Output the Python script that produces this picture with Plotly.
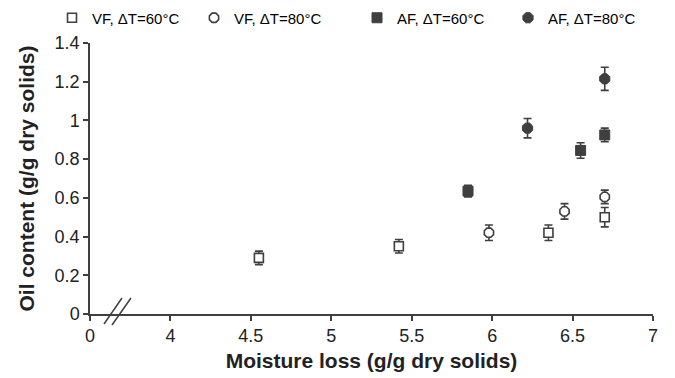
import plotly.graph_objects as go

# Data (moisture loss, oil content, error)
vf60_x = [4.55, 5.42, 6.35, 6.70]
vf60_y = [0.29, 0.35, 0.42, 0.50]
vf60_e = [0.035, 0.035, 0.04, 0.05]

vf80_x = [5.98, 6.45, 6.70]
vf80_y = [0.42, 0.53, 0.605]
vf80_e = [0.04, 0.04, 0.035]

af60_x = [5.85, 6.55, 6.70]
af60_y = [0.635, 0.845, 0.925]
af60_e = [0.03, 0.04, 0.035]

af80_x = [6.22, 6.70]
af80_y = [0.96, 1.215]
af80_e = [0.05, 0.06]

x_tickvals = [3.5, 4, 4.5, 5, 5.5, 6, 6.5, 7]
x_ticktext = ["0", "4", "4.5", "5", "5.5", "6", "6.5", "7"]
y_tickvals = [0, 0.2, 0.4, 0.6, 0.8, 1.0, 1.2, 1.4]
y_ticktext = ["0", "0.2", "0.4", "0.6", "0.8", "1", "1.2", "1.4"]

DARK = "#3f3f3f"
FONT = "Liberation Sans, Arial, sans-serif"

def err(e):
    return dict(type="data", array=e, visible=True, color=DARK, thickness=1.6, width=4)

fig = go.Figure()
fig.add_trace(go.Scatter(x=vf60_x, y=vf60_y, mode="markers", name="VF, ΔT=60°C",
                         error_y=err(vf60_e), legend="legend",
                         marker=dict(symbol="square", size=9, color="white",
                                     line=dict(color=DARK, width=1.6))))
fig.add_trace(go.Scatter(x=vf80_x, y=vf80_y, mode="markers", name="VF, ΔT=80°C",
                         error_y=err(vf80_e), legend="legend2",
                         marker=dict(symbol="octagon", size=10, color="white",
                                     line=dict(color=DARK, width=1.6))))
fig.add_trace(go.Scatter(x=af60_x, y=af60_y, mode="markers", name="AF, ΔT=60°C",
                         error_y=err(af60_e), legend="legend3",
                         marker=dict(symbol="square", size=10, color=DARK,
                                     line=dict(color=DARK, width=1))))
fig.add_trace(go.Scatter(x=af80_x, y=af80_y, mode="markers", name="AF, ΔT=80°C",
                         error_y=err(af80_e), legend="legend4",
                         marker=dict(symbol="octagon", size=11, color=DARK,
                                     line=dict(color=DARK, width=1))))

L, R, T, B = 90, 22, 43, 64
W, H = 675, 378
pw, ph = W - L - R, H - T - B

def px(xp):
    return (xp - L) / pw

def py(yp):
    return (H - B - yp) / ph

leg_common = dict(orientation="h", yanchor="middle", xanchor="left",
                  font=dict(family=FONT, size=15, color="black"),
                  bgcolor="rgba(0,0,0,0)", itemwidth=30, tracegroupgap=0)
ly = py(18)
fig.update_layout(
    legend=dict(x=px(68 - 16), y=ly, **leg_common),
    legend2=dict(x=px(210 - 16), y=ly, **leg_common),
    legend3=dict(x=px(373 - 16), y=ly, **leg_common),
    legend4=dict(x=px(524 - 16), y=ly, **leg_common),
)

fig.update_layout(
    width=W, height=H,
    margin=dict(l=L, r=R, t=T, b=B, autoexpand=False),
    paper_bgcolor="white", plot_bgcolor="white",
    font=dict(family=FONT, size=16, color="black"),
    showlegend=True,
    xaxis=dict(range=[3.5, 7], tickvals=x_tickvals, ticktext=x_ticktext,
               showgrid=False, zeroline=False, showline=True, linecolor=DARK, linewidth=1.5,
               ticks="outside", ticklen=5, tickcolor=DARK, tickwidth=1.5,
               tickfont=dict(family=FONT, size=18, color="#222"),
               title=dict(text="<b>Moisture loss (g/g dry solids)</b>", standoff=8,
                          font=dict(family=FONT, size=21, color="#222"))),
    yaxis=dict(range=[0, 1.4], tickvals=y_tickvals, ticktext=y_ticktext,
               showgrid=False, zeroline=False, showline=True, linecolor=DARK, linewidth=1.5,
               ticks="outside", ticklen=5, tickcolor=DARK, tickwidth=1.5,
               tickfont=dict(family=FONT, size=18, color="#222"),
               title=dict(text="<b>Oil content (g/g dry solids)</b>", standoff=14,
                          font=dict(family=FONT, size=21, color="#222"))),
)

# axis break marks
for (x0, y0, x1, y1) in [(104, 324, 122, 298), (112, 325, 131, 298)]:
    fig.add_shape(type="line", xref="paper", yref="paper",
                  x0=px(x0), y0=py(y0), x1=px(x1), y1=py(y1),
                  line=dict(color=DARK, width=1.5))

fig.write_html("out.html")
